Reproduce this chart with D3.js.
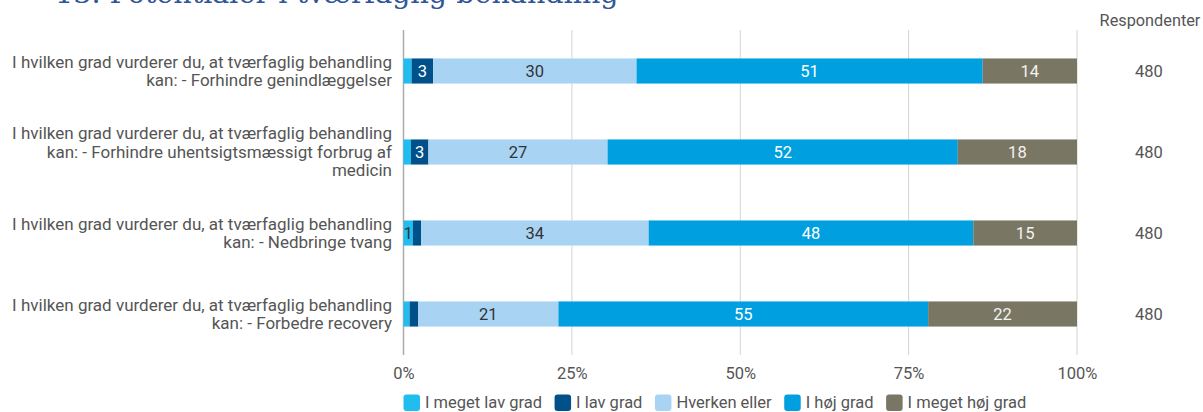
<!DOCTYPE html>
<html>
<head>
	<meta charset="utf-8">
	<title>Potentialer i tværfaglig behandling</title>
	<script src="https://d3js.org/d3.v7.min.js"></script>
	<style>
		body { margin: 0; background: #fff; }
		svg { display: block; font-family: Roboto, sans-serif; }
	</style>
</head>
<body>
<section id="container"></section>
<script>

//Data
var questions = [
	["I hvilken grad vurderer du, at tværfaglig behandling", "kan: - Forhindre genindlæggelser"],
	["I hvilken grad vurderer du, at tværfaglig behandling", "kan: - Forhindre uhentsigtsmæssigt forbrug af", "medicin"],
	["I hvilken grad vurderer du, at tværfaglig behandling", "kan: - Nedbringe tvang"],
	["I hvilken grad vurderer du, at tværfaglig behandling", "kan: - Forbedre recovery"]
];
var answers = ["I meget lav grad", "I lav grad", "Hverken eller", "I høj grad", "I meget høj grad"];
var meegetLav = [1.2, 1.1, 1.4, 0.9];
var lav = [3.2, 2.6, 1.2, 1.3];
var hverken = [30.2, 26.6, 33.8, 20.8];
var hoej = [51.4, 52.0, 48.2, 54.9];
var meegetHoej = [14.0, 17.7, 15.4, 22.1];
var respondents = [480, 480, 480, 480];
var ticks = [0, 25, 50, 75, 100];

var colors = ["#22BDEF", "#00508A", "#A8D3F3", "#009FDF", "#797664"];
var labelColors = ["#333", "#fff", "#333", "#fff", "#f2f2f2"];

var width = 1203, height = 412;

var svg = d3.select("#container")
	.append("svg")
	.attr("width", width)
	.attr("height", height);

//Title, cut off at the top like the reference
svg.append("text")
	.attr("x", 55)
	.attr("y", 3)
	.attr("font-family", "'DejaVu Serif', serif")
	.attr("font-size", 28.6)
	.attr("fill", "#2F5597")
	.text("13. Potentialer i tværfaglig behandling");

var x = d3.scaleLinear().domain([0, 100]).range([403.5, 1077]);
var y = d3.scaleBand()
	.domain(d3.range(questions.length))
	.range([30.5, 354.5])
	.paddingInner(0.69)
	.paddingOuter(0.345);

//Grid
svg.append("g")
	.selectAll("line")
	.data(ticks)
	.enter().append("line")
	.attr("x1", function(d) { return x(d); })
	.attr("x2", function(d) { return x(d); })
	.attr("y1", 30)
	.attr("y2", 355)
	.attr("stroke", function(d) { return d === 0 ? "#aaa" : "#d4d4d4"; })
	.attr("stroke-width", function(d) { return d === 0 ? 1.5 : 1; });

//Axis labels
var xAxis = svg.append("g")
	.attr("transform", "translate(0,355)")
	.call(d3.axisBottom(x).tickValues(ticks).tickSize(0).tickPadding(12).tickFormat(function(d) { return d + "%"; }));
xAxis.select(".domain").remove();
xAxis.selectAll("text")
	.attr("font-family", "Roboto, sans-serif")
	.attr("font-size", 16.5)
	.attr("fill", "#555");

//Stack
var rows = d3.range(questions.length).map(function(i) {
	return [meegetLav[i], lav[i], hverken[i], hoej[i], meegetHoej[i]];
});
var stack = d3.stack().keys(d3.range(answers.length))(rows);

var layers = svg.append("g")
	.selectAll("g")
	.data(stack)
	.enter().append("g")
	.attr("fill", function(d, i) { return colors[i]; });

layers.selectAll("rect")
	.data(function(d) { return d; })
	.enter().append("rect")
	.attr("x", function(d) { return x(d[0]); })
	.attr("y", function(d, i) { return y(i); })
	.attr("width", function(d) { return x(d[1]) - x(d[0]); })
	.attr("height", y.bandwidth());

layers.each(function(layer, k) {
	d3.select(this).selectAll("text")
		.data(layer.filter(function(d) { return x(d[1]) - x(d[0]) > 9; }))
		.enter().append("text")
		.attr("x", function(d) { return (x(d[0]) + x(d[1])) / 2; })
		.attr("y", function(d) { return y(layer.indexOf(d)) + y.bandwidth() / 2; })
		.attr("dy", "0.35em")
		.attr("text-anchor", "middle")
		.attr("font-size", 16.5)
		.attr("fill", labelColors[k])
		.text(function(d) { return Math.round(d[1] - d[0]); });
});

//Question labels
var qLabels = svg.append("g")
	.selectAll("text")
	.data(questions)
	.enter().append("text")
	.attr("text-anchor", "end")
	.attr("font-size", 17)
	.attr("fill", "#555")
	.attr("y", function(d, i) { return y(i) + y.bandwidth() / 2 - (d.length - 1) * 9.25; });

qLabels.selectAll("tspan")
	.data(function(d) { return d; })
	.enter().append("tspan")
	.attr("x", 392)
	.attr("dy", function(d, j) { return j === 0 ? "0.35em" : 18.5; })
	.text(function(d) { return d; });

//Respondents
svg.append("text")
	.attr("x", 1150)
	.attr("y", 20)
	.attr("dy", "0.35em")
	.attr("text-anchor", "middle")
	.attr("font-size", 16.3)
	.attr("fill", "#555")
	.text("Respondenter");

svg.append("g")
	.selectAll("text")
	.data(respondents)
	.enter().append("text")
	.attr("x", 1149)
	.attr("y", function(d, i) { return y(i) + y.bandwidth() / 2; })
	.attr("dy", "0.35em")
	.attr("text-anchor", "middle")
	.attr("font-size", 16.5)
	.attr("fill", "#555")
	.text(function(d) { return d; });

//Legend
var legend = svg.append("g").attr("transform", "translate(403.5,402.5)");
var lx = 0;
answers.forEach(function(a, i) {
	var item = legend.append("g").attr("transform", "translate(" + lx + ",0)");
	item.append("rect")
		.attr("x", 0)
		.attr("y", -8)
		.attr("width", 16.5)
		.attr("height", 16.5)
		.attr("rx", 3)
		.attr("fill", colors[i]);
	var t = item.append("text")
		.attr("x", 21.5)
		.attr("dy", "0.35em")
		.attr("font-size", 16.5)
		.attr("fill", "#555")
		.text(a);
	lx += 21.5 + t.node().getComputedTextLength() + 12.5;
});
</script>
</body>
</html>
